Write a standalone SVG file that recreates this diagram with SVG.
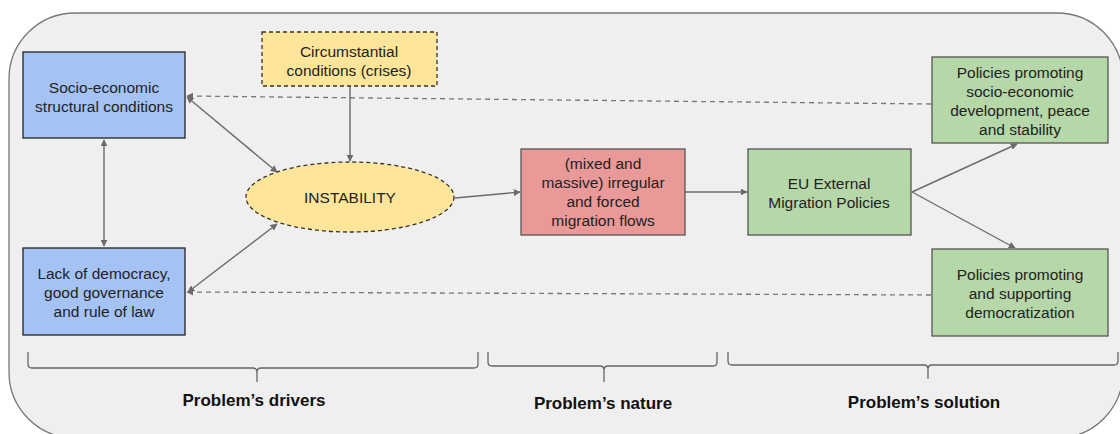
<svg xmlns="http://www.w3.org/2000/svg" width="1120" height="434" viewBox="0 0 1120 434">
  <style>
    .lbl { font-family: "Liberation Sans", Arial, sans-serif; font-size: 15.5px; fill: #222; text-anchor: middle; }
    .cap { font-family: "Liberation Sans", Arial, sans-serif; font-size: 17px; font-weight: bold; fill: #111; text-anchor: middle; }
    .blue { fill: #a4c2f4; stroke: #222; stroke-width: 1.3; }
    .yellow { fill: #ffe599; stroke: #333; stroke-width: 1.3; stroke-dasharray: 4 3; }
    .red { fill: #ea9999; stroke: #555; stroke-width: 1.3; }
    .green { fill: #b6d7a8; stroke: #555; stroke-width: 1.3; }
    .link { fill: none; stroke: #6b6b6b; stroke-width: 1.4; }
    .dash { fill: none; stroke: #777; stroke-width: 1.3; stroke-dasharray: 5 4; }
    .brace { fill: none; stroke: #666; stroke-width: 1.3; }
  </style>
  <defs>
    <marker id="arrow" viewBox="0 0 10 10" refX="9" refY="5" markerWidth="7" markerHeight="7" markerUnits="userSpaceOnUse" orient="auto-start-reverse">
      <path d="M0,0 L10,5 L0,10 z" fill="#6b6b6b"/>
    </marker>
  </defs>

  <!-- background panel -->
  <rect x="9" y="13" width="1114" height="425" rx="66" ry="66" fill="#efefef" stroke="#777" stroke-width="1.3"/>

  <!-- connectors -->
  <g id="connectors">
    <line class="dash" x1="931" y1="104" x2="187" y2="96" marker-end="url(#arrow)"/>
    <line class="dash" x1="931" y1="295" x2="187" y2="292" marker-end="url(#arrow)"/>
    <line class="link" x1="187" y1="97" x2="277" y2="172" marker-start="url(#arrow)" marker-end="url(#arrow)"/>
    <line class="link" x1="188" y1="292" x2="277" y2="224" marker-start="url(#arrow)" marker-end="url(#arrow)"/>
    <line class="link" x1="104" y1="140" x2="104" y2="246" marker-start="url(#arrow)" marker-end="url(#arrow)"/>
    <line class="link" x1="350" y1="86" x2="350" y2="161" marker-end="url(#arrow)"/>
    <line class="link" x1="455" y1="198" x2="520" y2="192" marker-end="url(#arrow)"/>
    <line class="link" x1="685" y1="192" x2="747" y2="192" marker-end="url(#arrow)"/>
    <line class="link" x1="912" y1="192" x2="1017" y2="144" marker-end="url(#arrow)"/>
    <line class="link" x1="912" y1="192" x2="1015" y2="248" marker-end="url(#arrow)"/>
  </g>

  <g id="socio-economic">
    <rect class="blue" x="23" y="52" width="162" height="86"/>
    <text class="lbl" x="104" y="93">Socio-economic</text>
    <text class="lbl" x="104" y="112">structural conditions</text>
  </g>

  <g id="democracy">
    <rect class="blue" x="23" y="248" width="162" height="87"/>
    <text class="lbl" x="104" y="279">Lack of democracy,</text>
    <text class="lbl" x="104" y="298">good governance</text>
    <text class="lbl" x="104" y="317">and rule of law</text>
  </g>

  <g id="circumstantial">
    <rect class="yellow" x="262" y="32" width="175" height="54"/>
    <text class="lbl" x="349" y="57">Circumstantial</text>
    <text class="lbl" x="349" y="76">conditions (crises)</text>
  </g>

  <g id="instability">
    <ellipse class="yellow" cx="350" cy="197" rx="104" ry="35"/>
    <text class="lbl" x="350" y="203">INSTABILITY</text>
  </g>

  <g id="migration-flows">
    <rect class="red" x="521" y="149" width="164" height="86"/>
    <text class="lbl" x="603" y="169">(mixed and</text>
    <text class="lbl" x="603" y="188">massive) irregular</text>
    <text class="lbl" x="603" y="207">and forced</text>
    <text class="lbl" x="603" y="226">migration flows</text>
  </g>

  <g id="eu-policies">
    <rect class="green" x="748" y="149" width="163" height="86"/>
    <text class="lbl" x="829" y="189">EU External</text>
    <text class="lbl" x="829" y="208">Migration Policies</text>
  </g>

  <g id="development-policies">
    <rect class="green" x="932" y="57" width="176" height="86"/>
    <text class="lbl" x="1020" y="78">Policies promoting</text>
    <text class="lbl" x="1020" y="97">socio-economic</text>
    <text class="lbl" x="1020" y="116">development, peace</text>
    <text class="lbl" x="1020" y="135">and stability</text>
  </g>

  <g id="democratization-policies">
    <rect class="green" x="932" y="249" width="176" height="87"/>
    <text class="lbl" x="1020" y="280">Policies promoting</text>
    <text class="lbl" x="1020" y="299">and supporting</text>
    <text class="lbl" x="1020" y="318">democratization</text>
  </g>

  <!-- section braces -->
  <g id="drivers">
    <path class="brace" d="M28,352 L28,364 Q28,368 32,368 L253,368 Q257,368 257,372 L257,382 M257,372 Q257,368 261,368 L474,368 Q478,368 478,364 L478,352"/>
    <text class="cap" x="254" y="406">Problem’s drivers</text>
  </g>
  <g id="nature">
    <path class="brace" d="M488,352 L488,362 Q488,366 492,366 L600,366 Q604,366 604,370 L604,382 M604,370 Q604,366 608,366 L713,366 Q717,366 717,362 L717,352"/>
    <text class="cap" x="603" y="409">Problem’s nature</text>
  </g>
  <g id="solution">
    <path class="brace" d="M728,352 L728,361 Q728,365 732,365 L924,365 Q928,365 928,369 L928,379 M928,369 Q928,365 932,365 L1114,365 Q1118,365 1118,361 L1118,352"/>
    <text class="cap" x="924" y="408">Problem’s solution</text>
  </g>
</svg>
